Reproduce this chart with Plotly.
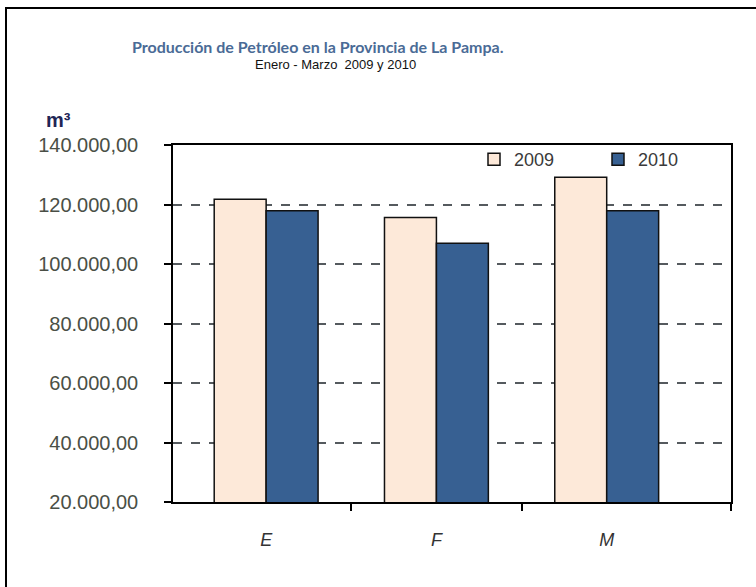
import plotly.graph_objects as go

# ---- data ----
categories = ["E", "F", "M"]
series_names = ["2009", "2010"]
values_2009 = [121750, 115600, 129150]
values_2010 = [117900, 107000, 117900]
y_tick_values = [20000, 40000, 60000, 80000, 100000, 120000, 140000]

title_text = "Producción de Petróleo en la Provincia de La Pampa."
subtitle_text = "Enero - Marzo  2009 y 2010"
unit_text = "m³"

# ---- layout constants (pixels) ----
W, H = 756, 587
L, R, T, B = 173, 25, 145, 85
PW, PH = W - L - R, H - T - B

def px_x(p):
    return (p - L) / PW

def px_y(p):
    return (H - B - p) / PH

xpos = list(range(len(categories)))
x_range = [-0.547, 2.73]

fig = go.Figure()
fig.add_trace(go.Bar(
    x=xpos, y=values_2009, name=series_names[0],
    marker=dict(color="#FDE9D9", line=dict(color="#111111", width=1.5)),
))
fig.add_trace(go.Bar(
    x=xpos, y=values_2010, name=series_names[1],
    marker=dict(color="#376092", line=dict(color="#111111", width=1.5)),
))

fig.update_layout(
    width=W, height=H,
    margin=dict(l=L, r=R, t=T, b=B),
    paper_bgcolor="white", plot_bgcolor="white",
    barmode="group", bargap=0.39, bargroupgap=0,
    separators=",.",
    font=dict(family="Liberation Sans, Arial, sans-serif", color="#333333"),
    legend=dict(
        orientation="h", x=px_x(474), y=px_y(141), xanchor="left", yanchor="top",
        bgcolor="rgba(0,0,0,0)", font=dict(size=18, color="#3a3a3a"),
        itemwidth=30, entrywidth=79, entrywidthmode="pixels",
        traceorder="normal",
    ),
    showlegend=True,
)

fig.update_xaxes(
    range=x_range, tickvals=xpos, ticktext=categories,
    ticks="", showgrid=False, zeroline=False,
    showline=True, linecolor="#000000", linewidth=1.5, mirror=True,
    tickfont=dict(size=18, color="#333333",
                  family="Liberation Sans, Arial, sans-serif", style="italic"),
    ticklabelstandoff=21,
    minor=dict(tickvals=[i + 0.5 for i in xpos[:-1]] + [x_range[1]],
               ticks="outside", ticklen=7, tickcolor="#000000", tickwidth=1.5,
               showgrid=False),
)
fig.update_yaxes(
    range=[y_tick_values[0], y_tick_values[-1]], tickvals=y_tick_values,
    tickformat=",.2f",
    ticks="outside", ticklen=7, tickcolor="#000000", tickwidth=1.5,
    showline=True, linecolor="#000000", linewidth=1.5, mirror=True,
    showgrid=True, gridcolor="#555a5e", gridwidth=1.6, griddash="dash",
    zeroline=False,
    tickfont=dict(size=20, color="#4a4f46", family="Liberation Sans, Arial, sans-serif"),
    ticklabelstandoff=22,
)

fig.add_annotation(
    text="<b>" + title_text + "</b>", xref="paper", yref="paper",
    x=px_x(130), y=px_y(46), xanchor="left", yanchor="middle", showarrow=False,
    font=dict(size=16, color="#4a6b96", family="Lato, Liberation Sans, sans-serif"),
)
fig.add_annotation(
    text=subtitle_text, xref="paper", yref="paper",
    x=px_x(335), y=px_y(65), xanchor="center", yanchor="middle", showarrow=False,
    font=dict(size=13, color="#111111", family="Liberation Sans, Arial, sans-serif"),
)
fig.add_annotation(
    text="<b>" + unit_text + "</b>", xref="paper", yref="paper",
    x=px_x(58), y=px_y(120), xanchor="center", yanchor="middle", showarrow=False,
    font=dict(size=20, color="#1f2556", family="Liberation Sans, Arial, sans-serif"),
)

fig.add_shape(
    type="rect", xref="paper", yref="paper",
    x0=px_x(6), x1=px_x(765), y0=px_y(595), y1=px_y(8),
    line=dict(color="#000000", width=2), fillcolor="rgba(0,0,0,0)", layer="below",
)

fig.write_html("out.html", config={"displayModeBar": False},
               post_script="document.body.style.margin='0';")
